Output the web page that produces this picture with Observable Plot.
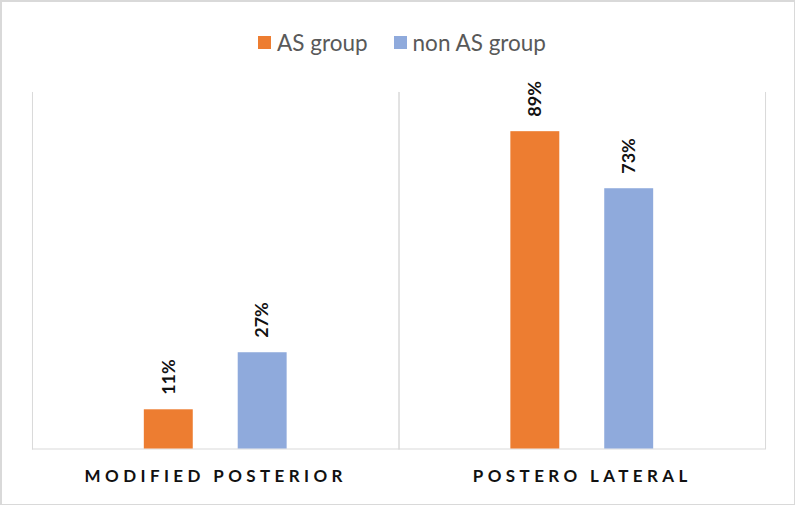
<!DOCTYPE html>
<html>
<head>
<meta charset="utf-8">
<script src="https://cdn.jsdelivr.net/npm/d3@7"></script>
<script src="https://cdn.jsdelivr.net/npm/@observablehq/plot@0.6"></script>
<style>
  html, body { margin: 0; padding: 0; background: #fff; }
  #wrap {
    position: relative; width: 795px; height: 505px; box-sizing: border-box;
    border: 1px solid #d9d9d9; border-top-width: 2px; border-left-width: 2px;
    font-family: Lato, "Open Sans", sans-serif; overflow: hidden;
  }
  #legend {
    position: absolute; left: 0; top: 27px; width: 100%;
    display: flex; justify-content: center; align-items: center;
    font-size: 22.5px; color: #595959; padding-left: 8px; box-sizing: border-box;
  }
  .item { display: flex; align-items: center; margin: 0 13px; }
  .sw { width: 13px; height: 13px; margin-right: 6px; }
  #chart { position: absolute; left: -2px; top: 58px; }
  [aria-label="fx-axis tick label"] text { letter-spacing: 4.4px; }
</style>
</head>
<body>
<div id="wrap">
  <div id="legend"></div>
  <div id="chart"></div>
</div>
<script>
// Approach categories and the two patient groups
const approaches = ["MODIFIED POSTERIOR", "POSTERO LATERAL"];
const groups = ["AS group", "non AS group"];
const asGroup = [0.11, 0.89];
const nonAsGroup = [0.27, 0.73];
const colors = ["#ED7D31", "#8FAADC"];

const data = approaches.flatMap((a, i) => [
  {approach: a, group: groups[0], value: asGroup[i]},
  {approach: a, group: groups[1], value: nonAsGroup[i]}
]);

// Legend
const legend = document.getElementById("legend");
groups.forEach((g, i) => {
  const item = document.createElement("div");
  item.className = "item";
  const sw = document.createElement("span");
  sw.className = "sw";
  sw.style.background = colors[i];
  const label = document.createElement("span");
  label.textContent = g;
  item.append(sw, label);
  legend.append(item);
});

const chart = Plot.plot({
  width: 795,
  height: 445,
  marginTop: 32,
  marginBottom: 56,
  marginLeft: 32,
  marginRight: 29,
  style: {fontFamily: "Lato, 'Open Sans', sans-serif", background: "transparent"},
  fx: {domain: approaches, padding: 0, label: null},
  x: {domain: groups, paddingInner: 0.4737, paddingOuter: 1.174, axis: null},
  y: {domain: [0, 1], axis: null},
  color: {domain: groups, range: colors},
  marks: [
    Plot.frame({anchor: "left", stroke: "#d9d9d9"}),
    Plot.frame({anchor: "right", stroke: "#d9d9d9"}),
    Plot.ruleY([0], {stroke: "#d9d9d9"}),
    Plot.barY(data, {fx: "approach", x: "group", y: "value", fill: "group"}),
    Plot.text(data, {
      fx: "approach", x: "group", y: "value",
      text: d => `${Math.round(d.value * 100)}%`,
      rotate: -90, textAnchor: "start", dy: -15,
      fontSize: 18, fontWeight: "bold", fill: "#111"
    }),
    Plot.axisFx({
      anchor: "bottom", tickSize: 0, tickPadding: 21, label: null,
      fontSize: 17, fontWeight: "bold", fill: "#111"
    })
  ]
});
document.getElementById("chart").append(chart);
</script>
</body>
</html>
